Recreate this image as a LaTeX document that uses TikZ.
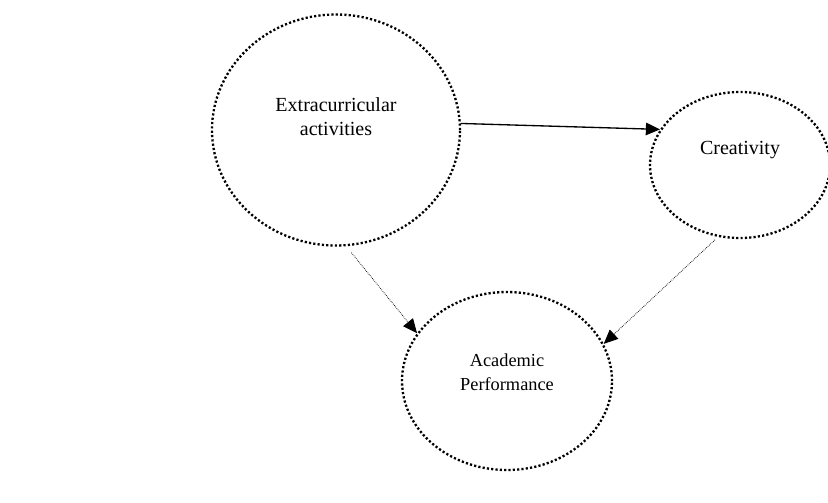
\documentclass[tikz,border=0pt]{standalone}
\usepackage{fontspec}
\setmainfont{Liberation Serif}
\usetikzlibrary{positioning,shapes.geometric,arrows.meta}

\begin{document}
\begin{tikzpicture}[
    x=0.6pt, y=-0.6pt, % one unit is one pixel of the layout
    construct/.style={ellipse, draw, line width=1.4pt, dash pattern=on 1.3pt off 1.3pt, inner sep=0pt},
    caption/.style={align=center, font=\fontsize{12}{14.4}\selectfont},
    arrow/.style={draw, line width=0.8pt, -{Triangle[length=8.5pt, width=7.5pt]}}, % solid path
    dotarrow/.style={draw, line width=0.5pt, dash pattern=on 0.4pt off 0.7pt, -{Triangle[length=8.5pt, width=7.5pt]}}
]
    \clip (0,0) rectangle (828,502);

    % Nodes
    \node (extra) [construct, minimum width=148.8pt, minimum height=138.6pt] at (336,130) {};
    \node (creat) [construct, minimum width=108pt, minimum height=87.6pt] at (740,165) {};
    \node (acad) [construct, minimum width=126pt, minimum height=106.8pt] at (507,381) {};

    \node (extratext) [caption] at (336,117) {Extracurricular\\activities};
    \node (creattext) [caption] at (740,150) {Creativity};
    \node (acadtext) [caption, font=\fontsize{11}{14.4}\selectfont] at (507,372) {Academic\\Performance};

    % Connections
    \path [arrow] (extra.3) -- (creat.156);
    \path [dotarrow, shorten <=5pt] (extra.275) -- (acad.152);
    \path [dotarrow, shorten <=2.5pt] (creat.253) -- (acad.21);

\end{tikzpicture}
\end{document}
